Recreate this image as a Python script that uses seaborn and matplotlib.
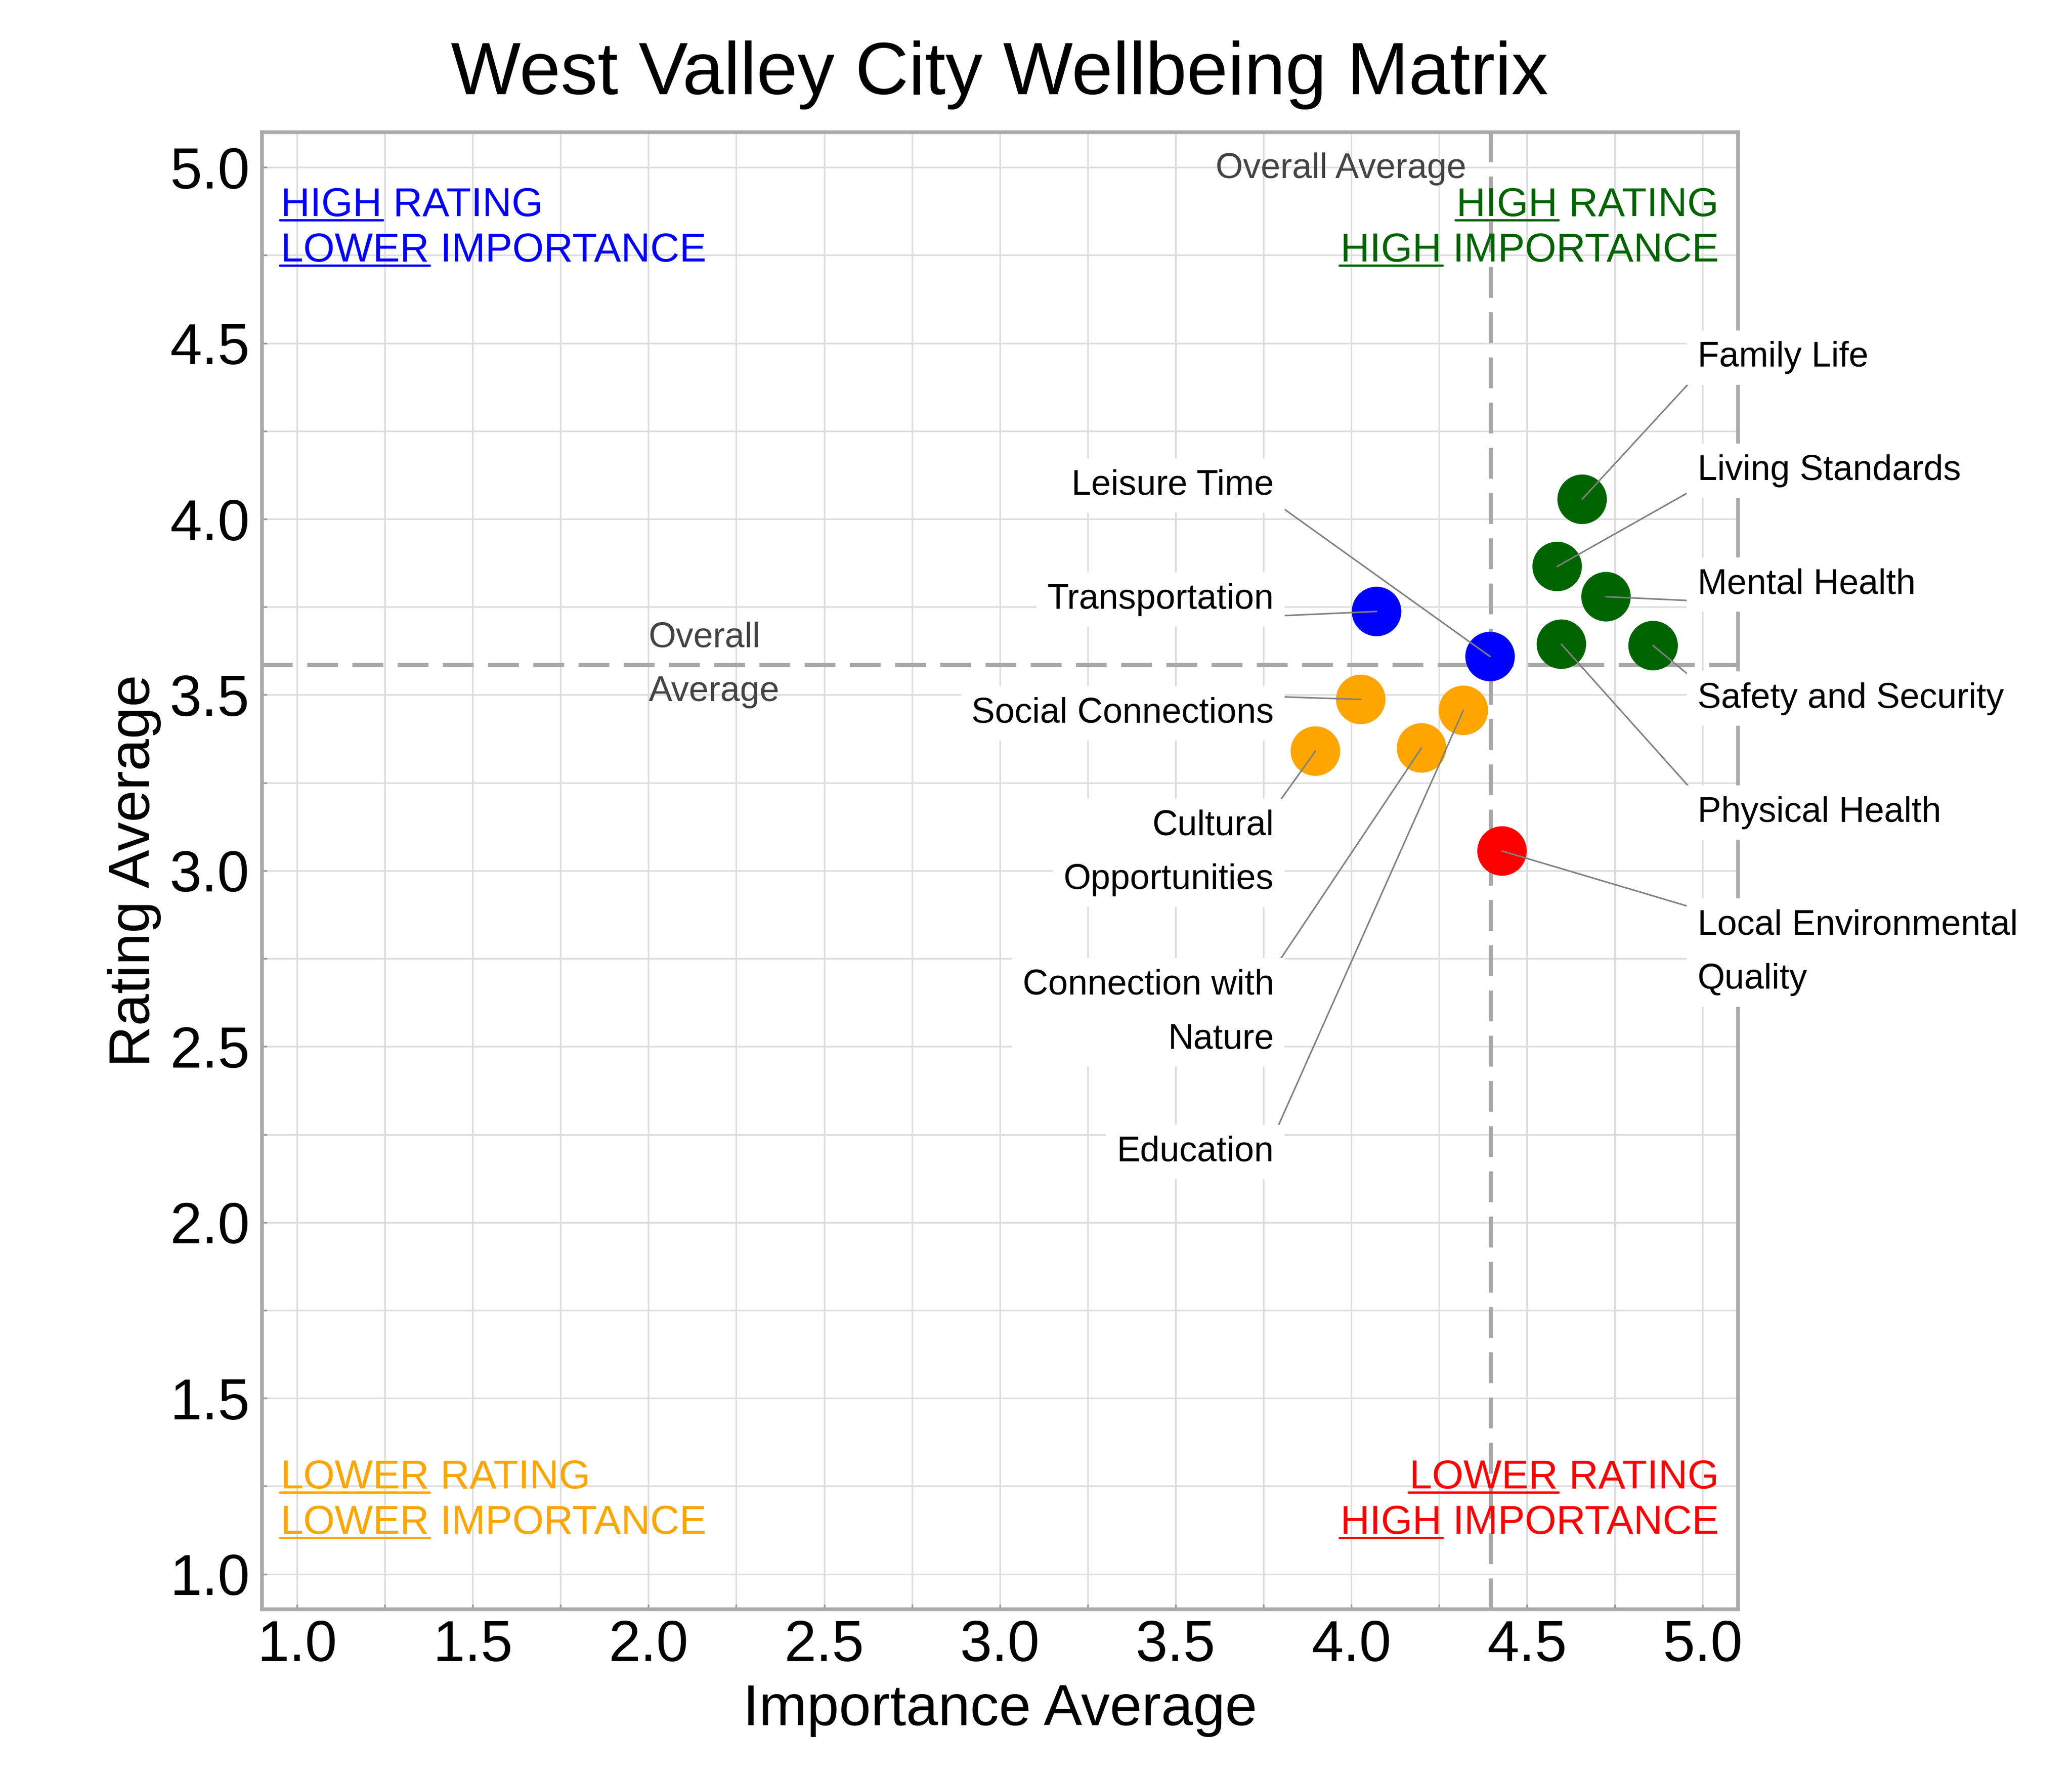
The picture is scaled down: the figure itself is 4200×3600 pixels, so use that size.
import numpy as np
import pandas as pd
import matplotlib
matplotlib.use("Agg")
import matplotlib.pyplot as plt
import seaborn as sns
from matplotlib.ticker import MultipleLocator

# ---------------- data ----------------
categories = ["Family Life", "Living Standards", "Mental Health", "Physical Health",
              "Safety and Security", "Leisure Time", "Transportation", "Social Connections",
              "Education", "Connection with Nature", "Cultural Opportunities",
              "Local Environmental Quality"]
importance = [4.657, 4.586, 4.725, 4.598, 4.859, 4.395, 4.072, 4.027, 4.319, 4.200, 3.898, 4.429]
rating = [4.056, 3.865, 3.779, 3.644, 3.640, 3.609, 3.737, 3.487, 3.456, 3.349, 3.340, 3.056]
quadrant = ["HH", "HH", "HH", "HH", "HH", "HL", "HL", "LL", "LL", "LL", "LL", "LH"]
label_text = ["Family Life", "Living Standards", "Mental Health", "Physical Health",
              "Safety and Security", "Leisure Time", "Transportation", "Social Connections",
              "Education", "Connection with\nNature", "Cultural\nOpportunities",
              "Local Environmental\nQuality"]

quad_colors = {"HH": "#006400", "HL": "#0000FF", "LL": "#FFA500", "LH": "#FF0000"}

# ---------------- layout (label placement) ----------------
label_side = ["right", "right", "right", "right", "right", "left", "left", "left",
              "left", "left", "left", "right"]
label_y = [4.459, 4.137, 3.814, 3.165, 3.489, 4.096, 3.771, 3.448, 2.200, 2.597, 3.051, 2.767]
LEFT_X, RIGHT_X = 3.78, 4.985
LBL_FS = 17.2
LBL_LS = 1.82

df = pd.DataFrame({"Importance": importance, "Rating": rating, "Quadrant": quadrant,
                   "Category": categories})
avg_imp = float(np.mean(importance))
avg_rat = float(np.mean(rating))

sns.set_theme(style="white")
plt.rcParams["font.family"] = ["Liberation Sans", "DejaVu Sans"]
plt.rcParams["text.color"] = "black"
plt.rcParams["axes.labelcolor"] = "black"
plt.rcParams["axes.titlecolor"] = "black"

fig = plt.figure(figsize=(14, 12), dpi=300)
ax = fig.add_axes([0.1264, 0.0939, 0.8387 - 0.1264, 0.9256 - 0.0939])

ax.set_xlim(0.9, 5.1)
ax.set_ylim(0.9, 5.1)

# grid
ax.xaxis.set_major_locator(MultipleLocator(0.5))
ax.yaxis.set_major_locator(MultipleLocator(0.5))
ax.xaxis.set_minor_locator(MultipleLocator(0.25))
ax.yaxis.set_minor_locator(MultipleLocator(0.25))
ax.grid(True, which="both", color="#dddddd", lw=0.8, zorder=0)
ax.set_axisbelow(True)

for s in ax.spines.values():
    s.set_color("#aaaaaa")
    s.set_linewidth(1.8)
    s.set_visible(True)

ax.tick_params(axis="both", which="both", direction="in", length=2.5, width=0.8,
               color="#999999", bottom=True, left=True)
ax.tick_params(axis="x", which="major", labelsize=28, pad=4.8, labelcolor="black")
ax.tick_params(axis="y", which="major", labelsize=28, pad=6, labelcolor="black")

# average lines
ax.axvline(avg_imp, color="#aaaaaa", lw=2.0, ls=(0, (7.5, 3.5)), zorder=1.5)
ax.axhline(avg_rat, color="#aaaaaa", lw=2.0, ls=(0, (7.5, 3.5)), zorder=1.5)

# points
sns.scatterplot(data=df, x="Importance", y="Rating", hue="Quadrant", palette=quad_colors,
                s=580, linewidth=0, legend=False, ax=ax, zorder=3)

ax.set_title("West Valley City Wellbeing Matrix", fontsize=36, pad=18.5, color="black")
ax.set_xlabel("Importance Average", fontsize=28, labelpad=5, color="black")
ax.set_ylabel("Rating Average", fontsize=28, labelpad=4, color="black")

# overall average labels
ax.text(avg_imp - 0.07, 4.995, "Overall Average", fontsize=LBL_FS, color="#444444",
        ha="right", va="center", zorder=4)
ax.text(2.0, avg_rat, "Overall\nAverage", fontsize=LBL_FS, color="#444444",
        ha="left", va="center", linespacing=LBL_LS, zorder=4)

fig.canvas.draw()
renderer = fig.canvas.get_renderer()

# quadrant labels with underlined first word
QFS = 19.7
def underlined_line(x, y, word, rest, color, ha):
    t = ax.text(x, y, word + " " + rest, color=color, fontsize=QFS, ha=ha,
                va="baseline", zorder=6)
    bb = t.get_window_extent(renderer)
    tw = ax.text(0, 0, word, fontsize=QFS)
    wb = tw.get_window_extent(renderer)
    tw.remove()
    _, yb = ax.transData.transform((x, y))
    yu = yb - 8
    p0, p1 = ax.transData.inverted().transform([(bb.x0 - 2, yu), (bb.x0 + wb.width + 2, yu)])
    ax.plot([p0[0], p1[0]], [p0[1], p1[1]], color=color, lw=1.1,
            solid_capstyle="round", clip_on=False, zorder=6)

quad_labels = [
    (0.953, "left", "HL", [("HIGH", "RATING"), ("LOWER", "IMPORTANCE")], [4.862, 4.732]),
    (5.046, "right", "HH", [("HIGH", "RATING"), ("HIGH", "IMPORTANCE")], [4.862, 4.732]),
    (0.953, "left", "LL", [("LOWER", "RATING"), ("LOWER", "IMPORTANCE")], [1.244, 1.114]),
    (5.046, "right", "LH", [("LOWER", "RATING"), ("HIGH", "IMPORTANCE")], [1.244, 1.114]),
]
for qx, qha, qkey, lines, ys in quad_labels:
    for (w, r), qy in zip(lines, ys):
        underlined_line(qx, qy, w, r, quad_colors[qkey], qha)

# point labels with connector lines
cands = [(rx, ry) for rx in (0, 0.5, 1) for ry in (0, 0.5, 1) if not (rx == 0.5 and ry == 0.5)]
for txt, xi, yi, side, ly in zip(label_text, importance, rating, label_side, label_y):
    lx = LEFT_X if side == "left" else RIGHT_X
    ha = "right" if side == "left" else "left"
    tmp = ax.text(lx, ly, txt, fontsize=LBL_FS, ha=ha, va="center", linespacing=LBL_LS)
    bb = tmp.get_window_extent(renderer)
    tmp.remove()
    px, py = ax.transData.transform((xi, yi))
    best = min(cands, key=lambda r: (bb.x0 + r[0] * bb.width - px) ** 2 +
               (bb.y0 + r[1] * bb.height - py) ** 2)
    ax.annotate(txt, xy=(xi, yi), xytext=(lx, ly), textcoords="data", ha=ha, va="center",
                fontsize=LBL_FS, linespacing=LBL_LS, color="black", zorder=6,
                bbox=dict(boxstyle="square,pad=0.3", fc="white", ec="none"),
                arrowprops=dict(arrowstyle="-", color="#808080", lw=0.75,
                                shrinkA=0, shrinkB=0, relpos=best))

fig.savefig("out.png", dpi=300)
